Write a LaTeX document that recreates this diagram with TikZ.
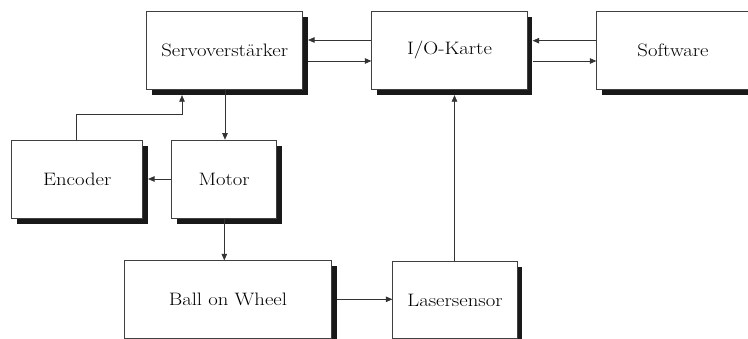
\documentclass[tikz,border=0pt]{standalone}
\usepackage{fontspec}
\setmainfont{Latin Modern Roman}[FakeStretch=1.15]
\usetikzlibrary{arrows.meta,shadows}
\tikzset{
  blk/.style={draw=black!75, line width=0.7pt, fill=white, inner sep=0pt,
    font=\fontsize{18}{21}\selectfont,
    drop shadow={shadow xshift=5pt, shadow yshift=-5.5pt, opacity=1, fill=black!90}},
  arr/.style={draw=black!80, line width=0.7pt, -{Triangle[length=6.5pt,width=5.5pt]}},
}
\begin{document}
\begin{tikzpicture}[x=1pt,y=-1pt]
\clip (0,0) rectangle (748,339);
\node[blk, minimum width=156pt, minimum height=77.6pt] (servo) at (224.7,50.5) {Servoverstärker};
\node[blk, minimum width=155.6pt, minimum height=77.6pt] (io) at (449.5,50.5) {I/O-Karte};
\node[blk, minimum width=152.6pt, minimum height=77.6pt] (soft) at (673,50.5) {Software};
\node[blk, minimum width=131pt, minimum height=77.6pt] (enc) at (77.2,179.5) {Encoder};
\node[blk, minimum width=105pt, minimum height=78.3pt] (motor) at (224.2,179.2) {Motor};
\node[blk, minimum width=207.7pt, minimum height=77.6pt] (ball) at (227.9,299.5) {Ball on Wheel};
\node[blk, minimum width=124.6pt, minimum height=77.6pt] (laser) at (455,300) {Lasersensor};
\coordinate (kink) at (182,114);
\draw[arr] (io.west |- 0,40) -- ([xshift=5pt]servo.east |- 0,40);
\draw[arr] ([xshift=5pt]servo.east |- 0,61) -- (io.west |- 0,61);
\draw[arr] (soft.west |- 0,40.7) -- ([xshift=5pt]io.east |- 0,40.7);
\draw[arr] ([xshift=5pt]io.east |- 0,61) -- (soft.west |- 0,61);
\draw[arr] (servo.south -| 225,0) -- (motor.north -| 225,0);
\draw[arr] (motor.west |- 0,179) -- ([xshift=5pt]enc.east |- 0,179);
\draw[arr] (enc.north -| 76.7,0) |- (kink) -- ([yshift=-5.5pt]servo.south -| kink);
\draw[arr] (motor.south -| 224.3,0) -- (ball.north -| 224.3,0);
\draw[arr] ([xshift=5pt]ball.east |- 0,299.3) -- (laser.west |- 0,299.3);
\draw[arr] (laser.north -| 454.5,0) -- ([yshift=-5.5pt]io.south -| 454.5,0);
\end{tikzpicture}
\end{document}
